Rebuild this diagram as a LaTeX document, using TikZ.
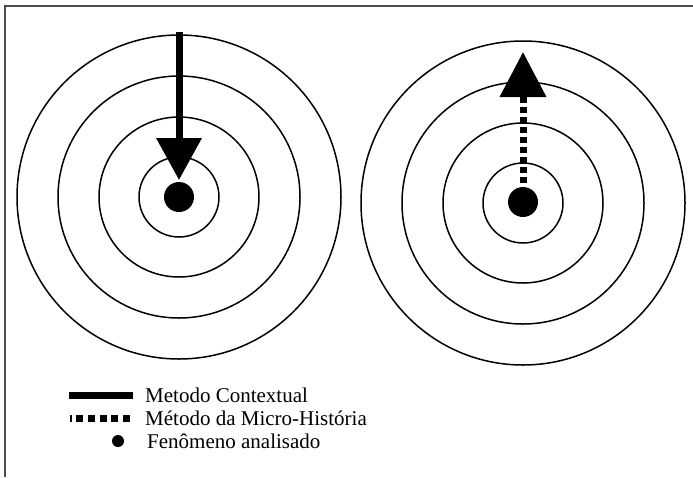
\documentclass[tikz,border=0pt]{standalone}
\usepackage{fontspec}
\setmainfont{Liberation Serif}
\usetikzlibrary{arrows.meta}
\begin{document}
\begin{tikzpicture}[x=1pt,y=-1pt,
  ring/.style={circle,draw,line width=1.5pt,inner sep=0pt,outer sep=0pt,minimum size=#1},
  phen/.style={circle,fill,inner sep=0pt,outer sep=0pt,minimum size=#1},
  ctx/.style={line width=7pt},
  micro/.style={line width=7pt,dash pattern=on 6.5pt off 3.5pt},
  leg/.style={anchor=base west,inner sep=0pt,font=\fontsize{21}{21}\selectfont}]
\useasboundingbox (0,0) rectangle (693,477);
\fill[white] (0,0) rectangle (693,477);
% frame
\draw[line width=2pt,black!70] (5,477) -- (5,6) -- (693,6);
% left target
\node[ring=324pt] (L4) at (179,197) {};
\node[ring=242pt] (L3) at (179,197) {};
\node[ring=160pt] (L2) at (179,197) {};
\node[ring=80pt] (L1) at (179,197) {};
\node[phen=30pt] (dotL) at (179,197) {};
\coordinate (topL) at (179,32);
\draw[ctx,-{Triangle[width=44pt,length=42pt]}] (topL) -- (dotL.north) [shorten >=2pt];
% right target
\node[ring=324pt] (R4) at (523,203) {};
\node[ring=242pt] (R3) at (523,203) {};
\node[ring=160pt] (R2) at (523,203) {};
\node[ring=80pt] (R1) at (523,203) {};
\node[phen=30pt] (dotR) at (523,202) {};
\coordinate (topR) at (523,52);
\draw[micro,-{Triangle[width=45pt,length=45pt]}] (dotR.north) -- (topR) [shorten <=4pt];
% legend
\coordinate (c1a) at (69,395);
\coordinate (c1b) at (133,395);
\draw[ctx] (c1a) -- (c1b);
\coordinate (c2a) at (130,418);
\coordinate (c2b) at (70,418);
\draw[line width=7pt,dash pattern=on 7pt off 4.7pt] (c2a) -- (c2b);
\node[phen=12pt] (dotLeg) at (118,441) {};
\node[leg] (t1) at (145,402) {Metodo Contextual};
\node[leg] (t2) at (145,425) {Método da Micro-História};
\node[leg] (t3) at (147,448) {Fenômeno analisado};
\end{tikzpicture}
\end{document}
